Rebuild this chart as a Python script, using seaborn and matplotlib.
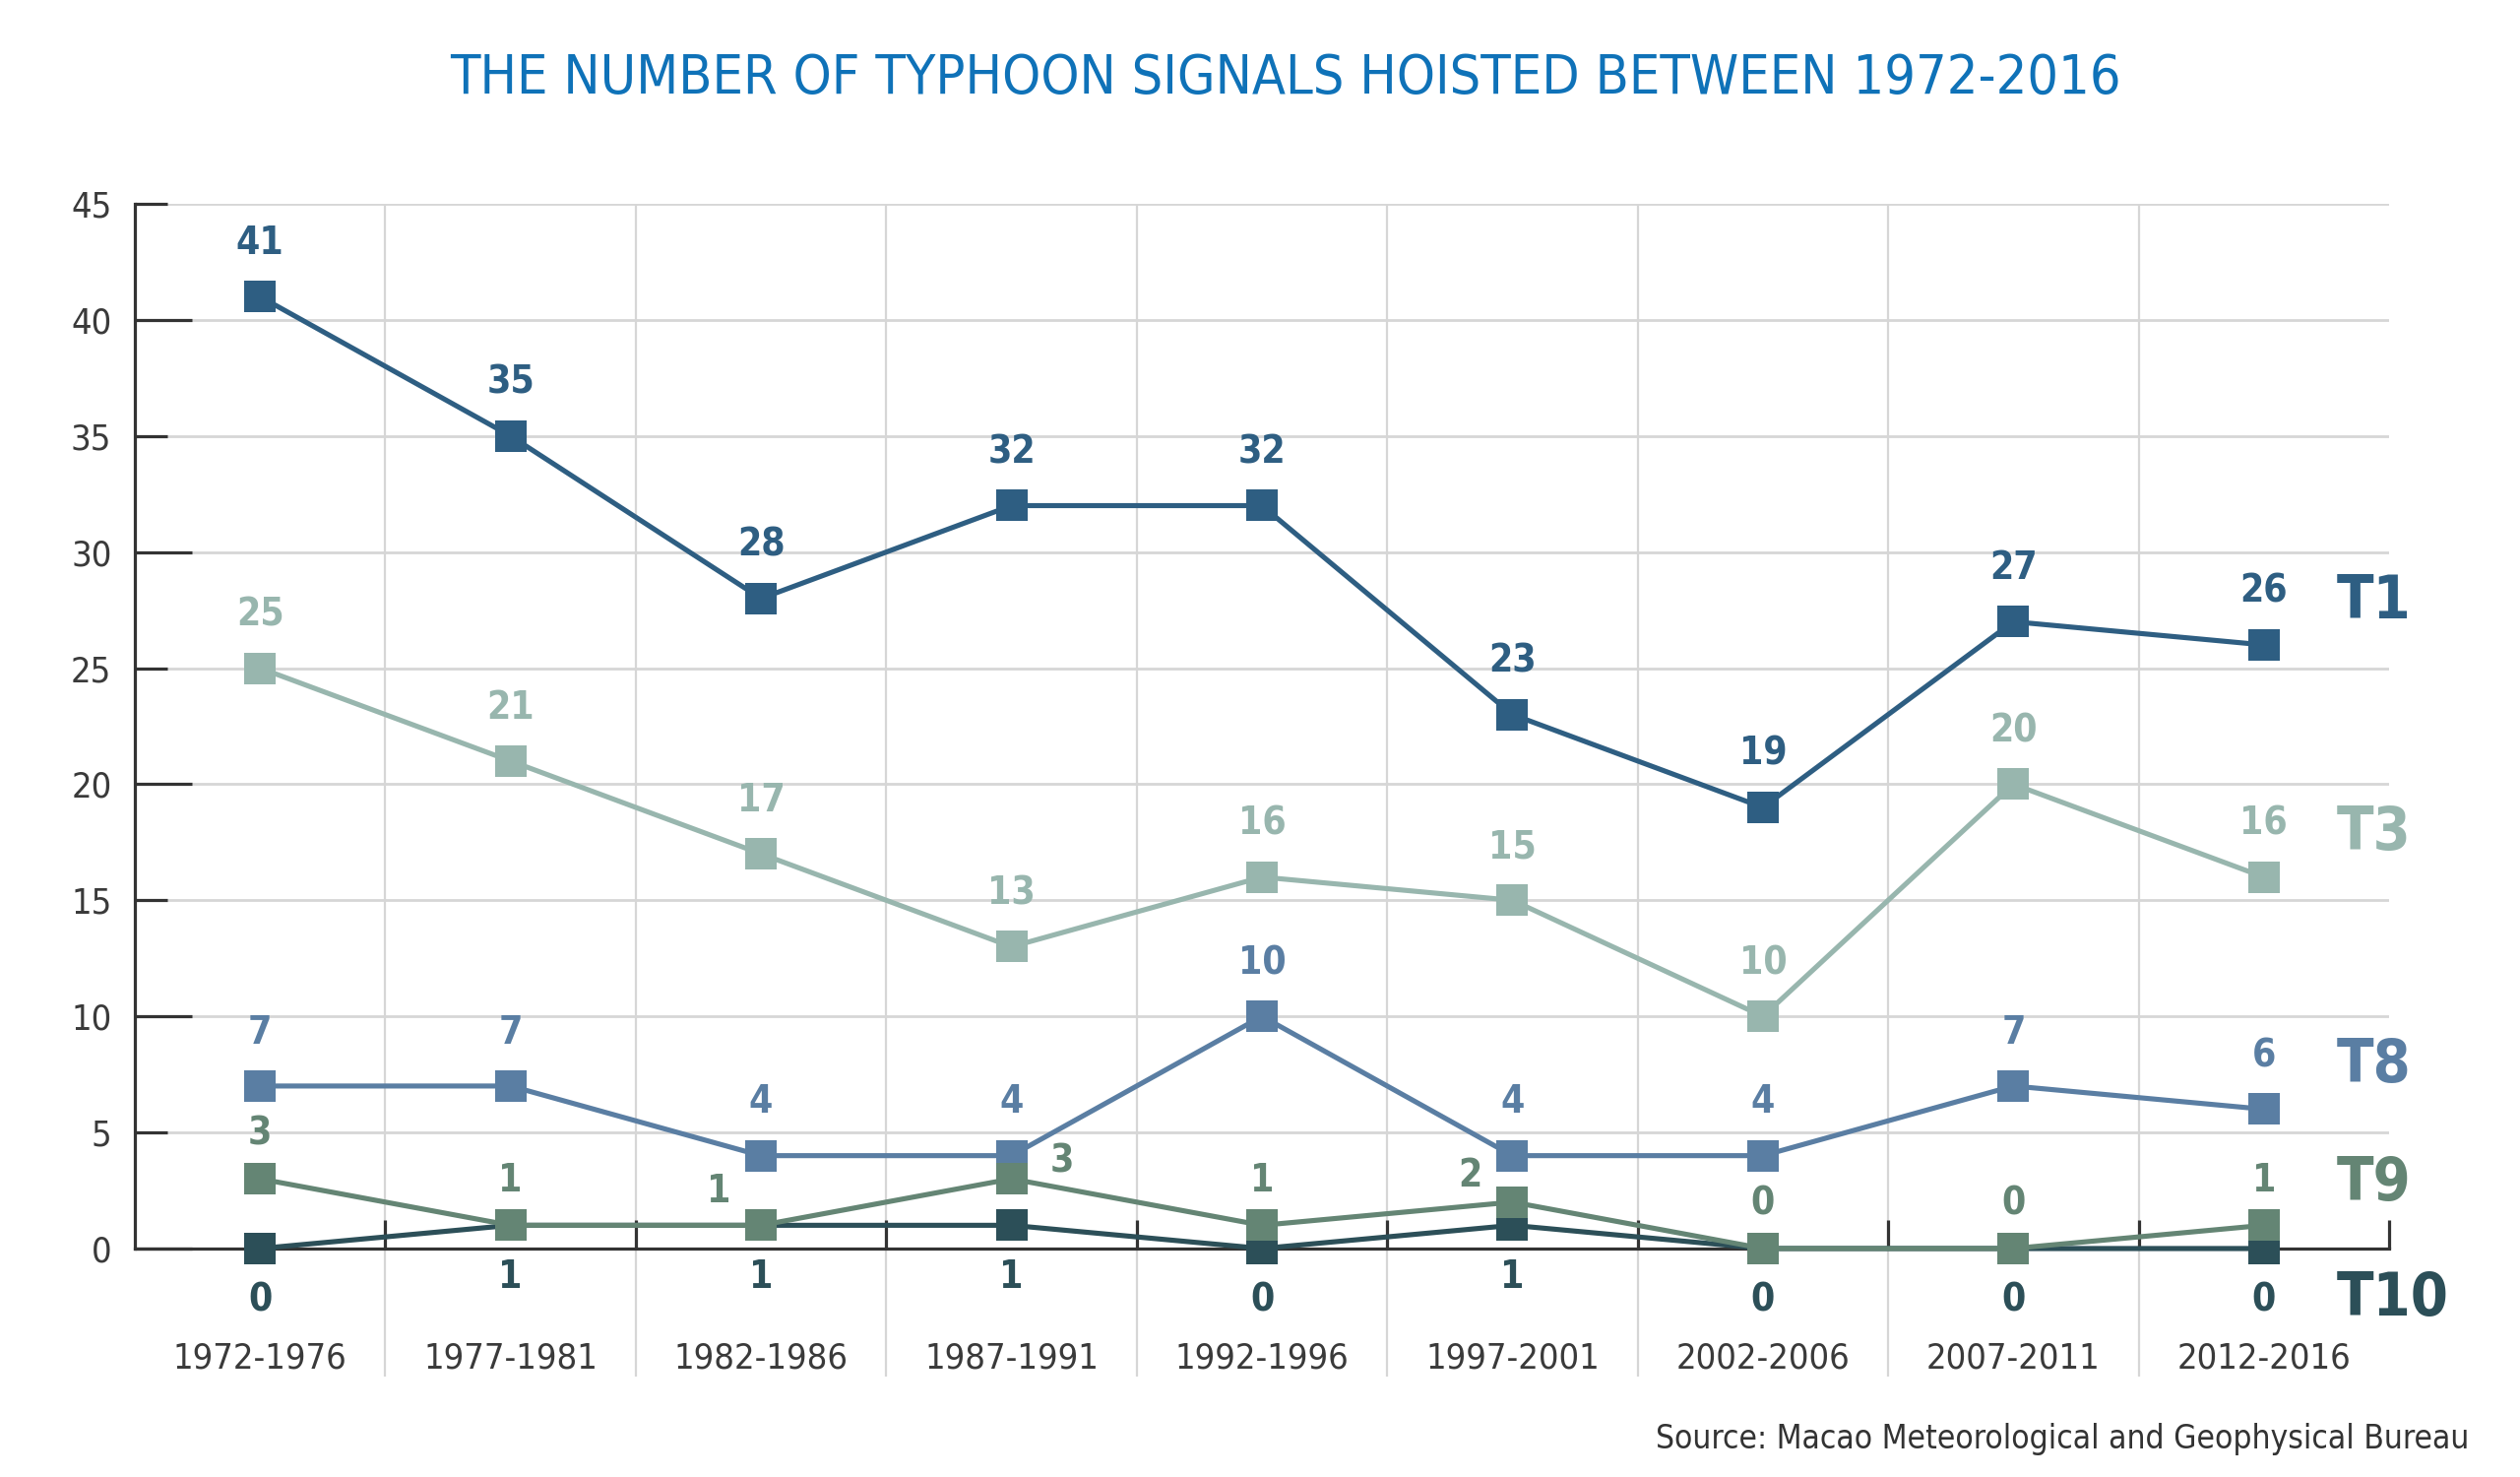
import numpy as np
import pandas as pd
import matplotlib
matplotlib.use("Agg")
import matplotlib.pyplot as plt
import seaborn as sns
from matplotlib.ticker import FixedLocator, FuncFormatter, NullFormatter

# data
periods = ["1972-1976", "1977-1981", "1982-1986", "1987-1991", "1992-1996",
           "1997-2001", "2002-2006", "2007-2011", "2012-2016"]
t1 = [41, 35, 28, 32, 32, 23, 19, 27, 26]
t3 = [25, 21, 17, 13, 16, 15, 10, 20, 16]
t8 = [7, 7, 4, 4, 10, 4, 4, 7, 6]
t9 = [3, 1, 1, 3, 1, 2, 0, 0, 1]
t10 = [0, 1, 1, 1, 0, 1, 0, 0, 0]

signals = ["T1", "T3", "T8", "T10", "T9"]   # T9 drawn last, on top of T10
values = {"T1": t1, "T3": t3, "T8": t8, "T9": t9, "T10": t10}
colors = {"T1": "#2e5e82", "T3": "#98b6ae", "T8": "#5a7ea3",
          "T9": "#648574", "T10": "#2c4f58"}

rows = []
for s in signals:
    for i, v in enumerate(values[s]):
        rows.append({"pos": i, "period": periods[i], "signal": s, "value": v})
df = pd.DataFrame(rows)

sns.set_theme(style="white")
plt.rcParams["font.family"] = ["DejaVu Sans"]
plt.rcParams["font.stretch"] = "condensed"

fig = plt.figure(figsize=(25.6, 15), dpi=100)
ax = fig.add_axes([137 / 2560, 0.1547, (2427 - 137) / 2560, 0.7073])

sns.lineplot(data=df, x="pos", y="value", hue="signal", hue_order=signals,
             palette=colors, style="signal", style_order=signals,
             markers={s: "s" for s in signals}, dashes=False, errorbar=None,
             markersize=23, markeredgewidth=0, linewidth=3.7, legend=False,
             sort=False, ax=ax)
for line in ax.lines:
    line.set_clip_on(False)
    line.set_zorder(3)

ax.set_xlim(-0.5, 8.5)
ax.set_ylim(0, 45)
ax.set_xlabel("")
ax.set_ylabel("")

# grid
grid_c = "#d6d6d6"
for y in range(5, 50, 5):
    ax.axhline(y, color=grid_c, lw=2, zorder=0)
bounds = np.arange(0.5, 9, 1.0)
ax.vlines(bounds[:-1], -0.1225, 1, transform=ax.get_xaxis_transform(),
          colors=grid_c, lw=1.6, zorder=0, clip_on=False)

# spines
sns.despine(ax=ax, top=True, right=True)
for side in ["left", "bottom"]:
    ax.spines[side].set_color("#333333")
    ax.spines[side].set_linewidth(2.3)
    ax.spines[side].set_zorder(2.5)

# y ticks
ax.yaxis.set_major_locator(FixedLocator([0, 10, 20, 30, 40]))
ax.yaxis.set_minor_locator(FixedLocator([5, 15, 25, 35, 45]))
fmt = FuncFormatter(lambda v, p: f"{v:.0f}")
ax.yaxis.set_major_formatter(fmt)
ax.yaxis.set_minor_formatter(fmt)
ax.tick_params(axis="y", which="major", direction="in", length=42, width=2.3,
               color="#333333", labelsize=26, labelcolor="#3a3a3a", pad=17, left=True)
ax.tick_params(axis="y", which="minor", direction="in", length=24, width=2.3,
               color="#333333", labelsize=26, labelcolor="#3a3a3a", pad=17, left=True)

# x ticks
ax.xaxis.set_major_locator(FixedLocator(range(len(periods))))
ax.set_xticklabels(periods)
ax.xaxis.set_minor_locator(FixedLocator(bounds))
ax.xaxis.set_minor_formatter(NullFormatter())
ax.tick_params(axis="x", which="major", length=0, labelsize=26,
               labelcolor="#3a3a3a", pad=68)
ax.tick_params(axis="x", which="minor", direction="in", length=21, width=2.3,
               color="#333333", bottom=True)

# value labels
up = {"T1": 39, "T3": 39, "T8": 39, "T9": 33, "T10": -38}
special = {("T9", 2): (-31, 25), ("T9", 3): (37, 13), ("T9", 5): (-31, 19)}
for s in signals:
    for i, v in enumerate(values[s]):
        off = special.get((s, i), (0, up[s]))
        ax.annotate(str(v), xy=(i, v), xytext=off, textcoords="offset points",
                    ha="center", va="center", fontsize=28, fontweight="bold",
                    color=colors[s], annotation_clip=False, zorder=5)

# series names at right end
name_dy = {"T1": 31, "T3": 32, "T8": 32, "T9": 30, "T10": -37}
for s in ["T1", "T3", "T8", "T9", "T10"]:
    ax.annotate(s, xy=(len(periods) - 1, values[s][-1]), xytext=(53, name_dy[s]),
                textcoords="offset points", ha="left", va="center",
                fontsize=44, fontweight="bold", color=colors[s],
                annotation_clip=False)

fig.text(0.51, 0.947, "THE NUMBER OF TYPHOON SIGNALS HOISTED BETWEEN 1972-2016",
         ha="center", va="center", fontsize=40, color="#0f72b8")
fig.text(2508 / 2560, 1 - 1462 / 1500,
         "Source: Macao Meteorological and Geophysical Bureau",
         ha="right", va="center", fontsize=24, color="#333333")

fig.savefig("out.png", dpi=100, facecolor="white")
